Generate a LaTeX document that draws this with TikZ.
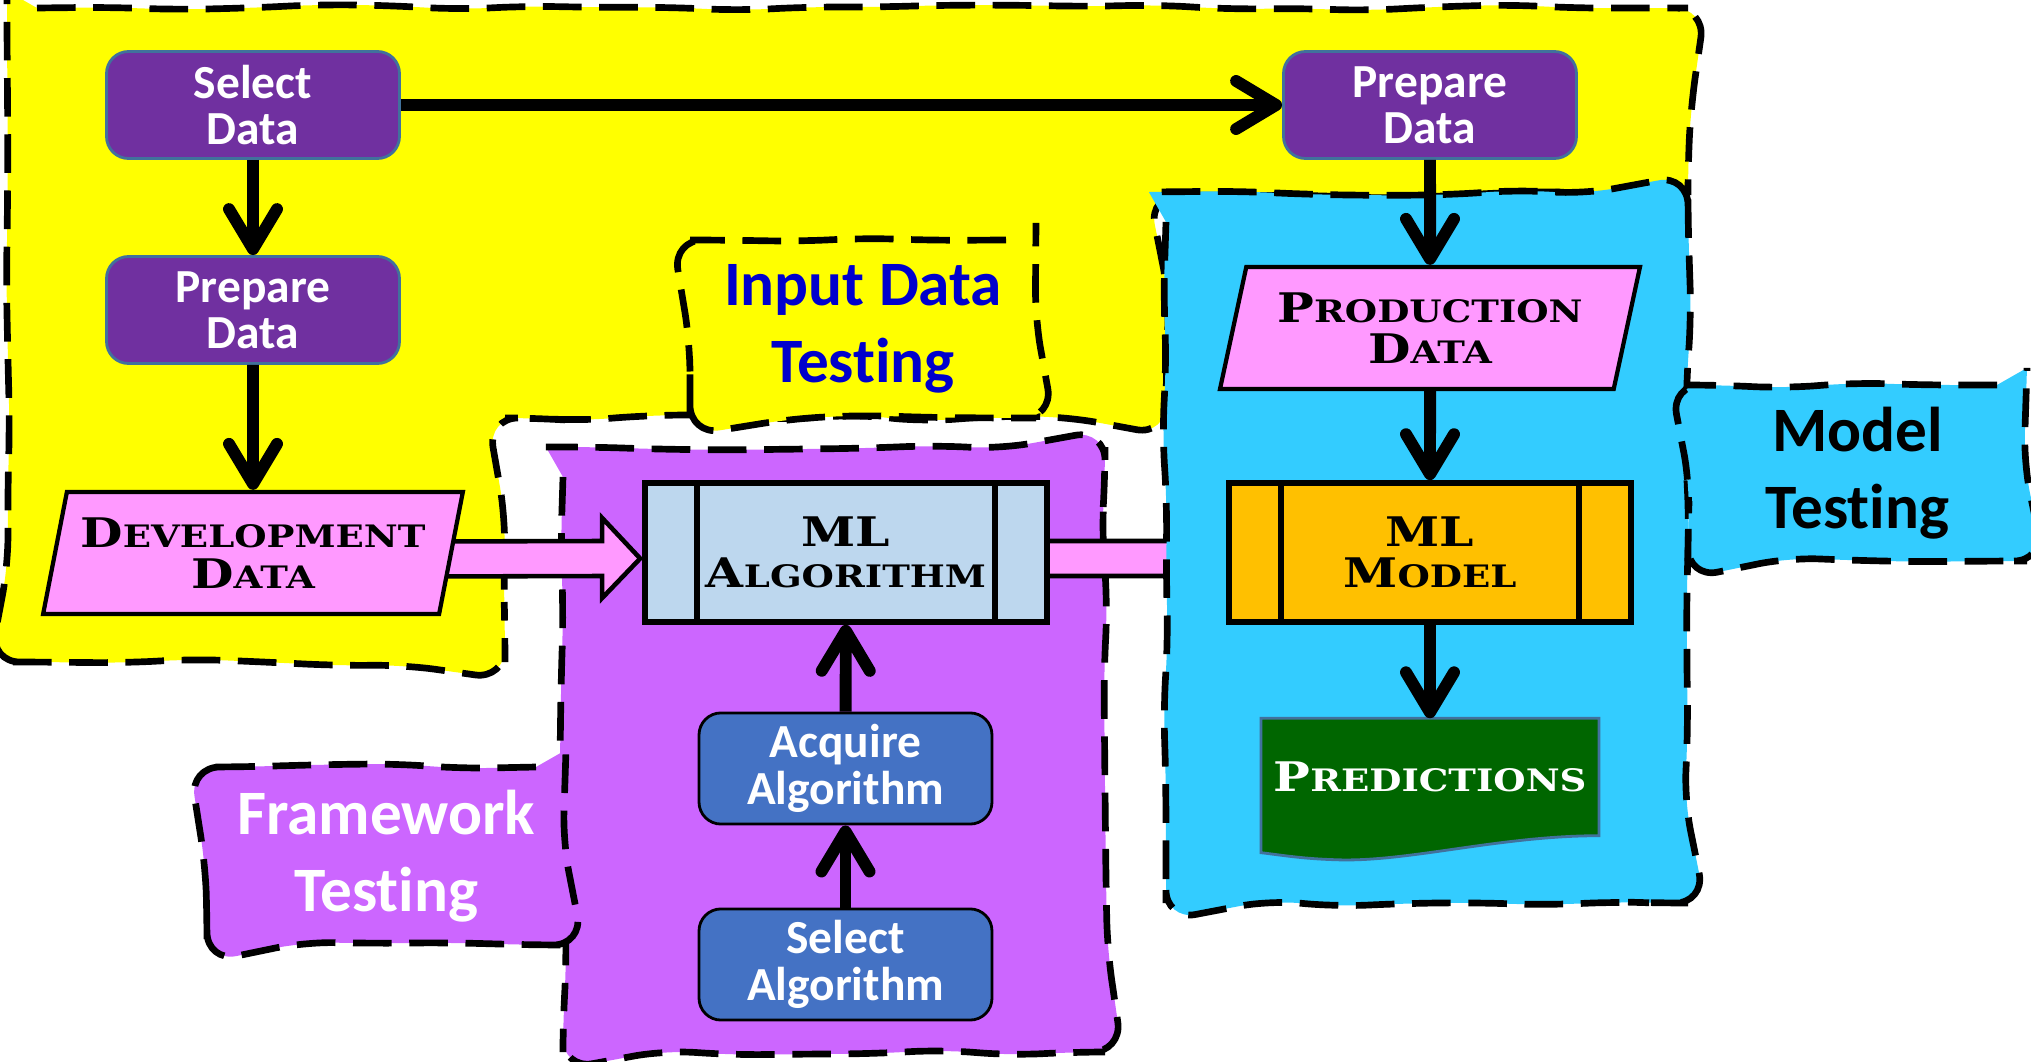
\documentclass[tikz,border=0pt]{standalone}
\usepackage{fontspec}
\setmainfont{Carlito}[Ligatures=NoCommon]
\newfontfamily\cpfont[FakeStretch=1.2]{DejaVu Serif}
\usetikzlibrary{arrows.meta,shapes.geometric,decorations.pathmorphing,calc}

\definecolor{zoneyellow}{HTML}{FFFF00}
\definecolor{zonelilac}{HTML}{CC66FF}
\definecolor{zonesky}{HTML}{33CCFF}
\definecolor{stepviolet}{HTML}{7030A0}
\definecolor{stepedge}{HTML}{41719C}
\definecolor{algblue}{HTML}{4472C4}
\definecolor{datapink}{HTML}{FF99FF}
\definecolor{mlpale}{HTML}{BDD7EE}
\definecolor{mlorange}{HTML}{FFC000}
\definecolor{predgreen}{HTML}{006600}
\definecolor{tagblue}{HTML}{0000CC}

\newcommand{\smcap}[2]{{\fontsize{11.6}{11.7}\selectfont #1}{\fontsize{8.8}{11.7}\selectfont #2}}

\pgfdeclarelayer{back}
\pgfdeclarelayer{pinkl}
\pgfdeclarelayer{sky}
\pgfsetlayers{back,pinkl,sky,main}

\begin{document}
\pgfmathsetseed{7}
\begin{tikzpicture}[
    zone/.style={draw=black, line width=1.9pt, dash pattern=on 11pt off 5pt,
                 decorate, decoration={random steps,segment length=7mm,amplitude=1pt},
                 rounded corners=3mm},
    zonetag/.style={zone, align=center, inner sep=0pt,
                    font=\fontsize{18}{22}\selectfont\bfseries},
    task/.style={rectangle, rounded corners=2.2mm, fill=stepviolet, draw=stepedge,
                 line width=0.8pt, text=white, align=center,
                 minimum width=2.93cm, minimum height=1.07cm,
                 font=\fontsize{13.5}{13.2}\selectfont\bfseries},
    algo/.style={task, fill=algblue, draw=black},
    datain/.style={trapezium, trapezium left angle=76, trapezium right angle=104,
                   trapezium stretches=true, minimum width=4.2cm, minimum height=1.22cm,
                   fill=datapink, draw=black, line width=1.2pt, align=center,
                   font=\cpfont\bfseries\fontsize{11.6}{11.7}\selectfont},
    mlbox/.style={rectangle, draw=black, line width=1.6pt, align=center,
                  minimum width=4.02cm, minimum height=1.39cm,
                  font=\cpfont\bfseries\fontsize{11.6}{11.7}\selectfont,
                  path picture={
                    \draw[line width=1.6pt]
                      ([xshift=0.52cm]path picture bounding box.north west) --
                      ([xshift=0.52cm]path picture bounding box.south west)
                      ([xshift=-0.52cm]path picture bounding box.north east) --
                      ([xshift=-0.52cm]path picture bounding box.south east);}},
    docbox/.style={rectangle, text=white, align=center,
                   minimum width=3.08cm, minimum height=1.16cm,
                   font=\cpfont\bfseries\fontsize{11.6}{11.7}\selectfont},
    flow/.style={line width=3.4pt, -{Straight Barb[length=4mm,width=4.8mm,round]}},
    fat/.style={fill=datapink, draw=black, line width=1.3pt, line join=miter}]

  \useasboundingbox (0,0) rectangle (20.31,-10.62);

  % testing zones
  \begin{pgfonlayer}{back}
    \path[zone, fill=zoneyellow] (0.07,-0.08) -- (16.88,-0.08) -- (16.88,-1.95)
      -- (11.66,-1.95) -- (11.66,-4.18) -- (5.05,-4.18) -- (5.05,-6.62)
      -- (0.07,-6.62) -- cycle;
    \path[zone, fill=zonelilac] (5.63,-4.47) rectangle (11.05,-10.52);
  \end{pgfonlayer}

  \node[zonetag, fill=zoneyellow, text=tagblue, minimum width=3.46cm,
        minimum height=1.78cm] (tagin) at (8.63,-3.29) {Input Data\\Testing};
  \node[zonetag, fill=zonelilac, text=white, minimum width=3.59cm,
        minimum height=1.78cm] (tagfw) at (3.865,-8.56) {Framework\\Testing};
  \node[zonetag, fill=zonesky, minimum width=3.39cm,
        minimum height=1.76cm] (tagmod) at (18.575,-4.73) {Model\\Testing};

  % steps
  \node[task]   (sdata)  at (2.53,-1.05)  {Select\\Data};
  \node[task]   (pdata)  at (2.53,-3.10)  {Prepare\\Data};
  \node[datain] (dev)    at (2.53,-5.53)  {\smcap{D}{EVELOPMENT}\\\smcap{D}{ATA}};
  \node[task]   (pdata2) at (14.30,-1.05) {Prepare\\Data};
  \node[datain] (prod)   at (14.30,-3.28) {\smcap{P}{RODUCTION}\\\smcap{D}{ATA}};
  \node[mlbox, fill=mlpale]   (mla) at (8.46,-5.525)  {ML\\\smcap{A}{LGORITHM}};
  \node[mlbox, fill=mlorange] (mlm) at (14.30,-5.525) {ML\\\smcap{M}{ODEL}};
  \node[algo]   (acq)    at (8.455,-7.685) {Acquire\\Algorithm};
  \node[algo]   (salg)   at (8.455,-9.645) {Select\\Algorithm};
  \node[docbox] (pred)   at (14.30,-7.77)  {\smcap{P}{REDICTIONS}};

  % data into the models
  \begin{pgfonlayer}{pinkl}
    \draw[fat] ($(dev.east)+(-0.3,0.115)$) -- ($(mla.west)+(-0.40,0.115)$)
      -- ($(mla.west)+(-0.40,0.345)$) -- ($(mla.west)+(-0.02,-0.06)$)
      -- ($(mla.west)+(-0.40,-0.455)$) -- ($(mla.west)+(-0.40,-0.235)$)
      -- ($(dev.east)+(-0.3,-0.235)$) -- cycle;
    \draw[fat] ($(mla.east)+(-0.3,0.115)$) -- ($(mlm.west)+(-0.40,0.115)$)
      -- ($(mlm.west)+(-0.40,0.345)$) -- ($(mlm.west)+(-0.02,-0.06)$)
      -- ($(mlm.west)+(-0.40,-0.455)$) -- ($(mlm.west)+(-0.40,-0.235)$)
      -- ($(mla.east)+(-0.3,-0.235)$) -- cycle;
  \end{pgfonlayer}

  \begin{pgfonlayer}{sky}
    \path[zone, fill=zonesky] (11.66,-1.92) rectangle (16.88,-9.03);
    \draw[fill=predgreen, draw=stepedge, line width=0.8pt]
      ($(pred.south west)+(0,-0.17)$) -- (pred.north west) -- (pred.north east)
      -- (pred.south east)
      .. controls ($(pred.south east)+(-1.0,0)$) and ($(pred.south west)+(1.45,-0.27)$)
      .. ($(pred.south west)+(0.74,-0.24)$)
      .. controls ($(pred.south west)+(0.4,-0.23)$) and ($(pred.south west)+(0.18,-0.19)$)
      .. ($(pred.south west)+(0,-0.17)$) -- cycle;
  \end{pgfonlayer}

  \draw[flow] (sdata) -- (pdata);
  \draw[flow] (pdata) -- (dev);
  \draw[flow] (sdata) -- (pdata2);
  \draw[flow] (pdata2) -- (prod);
  \draw[flow] (prod) -- (mlm);
  \draw[flow] (mlm) -- (pred);
  \draw[flow] (salg) -- (acq);
  \draw[flow] (acq) -- (mla);
\end{tikzpicture}
\end{document}
